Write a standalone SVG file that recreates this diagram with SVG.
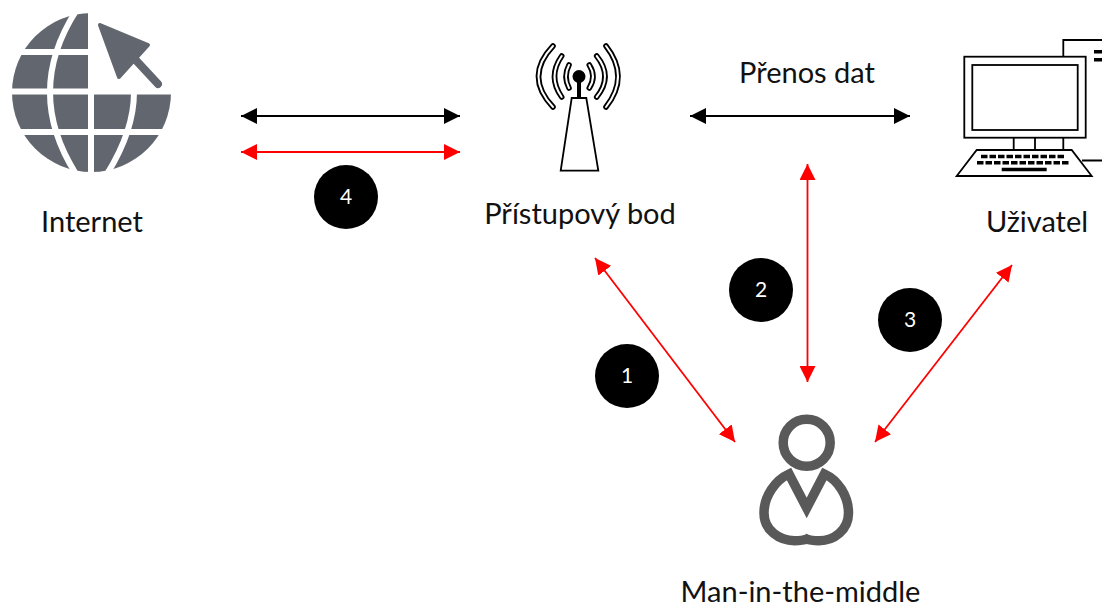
<svg xmlns="http://www.w3.org/2000/svg" width="1102" height="604" viewBox="0 0 1102 604">
<style>
text{font-family:"Lato","Liberation Sans",sans-serif;font-size:29px;fill:#111;text-anchor:middle}
.n{font-size:21px;fill:#fff}
.b{fill:#000}
.bk{stroke:#000;stroke-width:1.8;fill:none}
.rd{stroke:#f00;stroke-width:1.8;fill:none}
.ln{fill:none;stroke:#000;stroke-width:1.8;stroke-linejoin:miter}
.a1{fill:none;stroke:#000;stroke-width:5.6;stroke-linecap:round}
.a2{fill:none;stroke:#fff;stroke-width:2;stroke-linecap:round}
.g{fill:none;stroke:#fff;stroke-width:6}
</style>
<defs>
<marker id="ak" viewBox="0 0 16 16" refX="16" refY="8" markerWidth="16" markerHeight="16" markerUnits="userSpaceOnUse" orient="auto-start-reverse"><path d="M0 0L16 8L0 16z" fill="#000"/></marker>
<marker id="ar" viewBox="0 0 16 16" refX="16" refY="8" markerWidth="16" markerHeight="16" markerUnits="userSpaceOnUse" orient="auto-start-reverse"><path d="M0 0L16 8L0 16z" fill="#f00"/></marker>
<clipPath id="gc"><path d="M0 0H91V92H180V180H0z"/></clipPath>
</defs>
<g id="connectors">
<path class="bk" d="M241 116H460" marker-start="url(#ak)" marker-end="url(#ak)"/>
<path class="rd" d="M241 152H460" marker-start="url(#ar)" marker-end="url(#ar)"/>
<path class="bk" d="M690 116H910" marker-start="url(#ak)" marker-end="url(#ak)"/>
<path class="rd" d="M807.500 164V382" marker-start="url(#ar)" marker-end="url(#ar)"/>
<path class="rd" d="M595 258L735 442" marker-start="url(#ar)" marker-end="url(#ar)"/>
<path class="rd" d="M1012 265L875 442" marker-start="url(#ar)" marker-end="url(#ar)"/>
</g>
<g id="internet">
<g clip-path="url(#gc)">
<circle cx="91.500" cy="92.500" r="79.500" fill="#62666f"/>
<path class="g" d="M76 11Q24 92 76 174"/>
<path class="g" d="M0 52H180M0 91.500H180M0 132H180M91 0V180"/>
<path class="g" d="M107 174C122 150 134 122 134 92"/>
</g>
<path d="M100 25L148 45L119 77z" fill="#62666f" stroke="#62666f" stroke-width="4" stroke-linejoin="round"/>
<path d="M132 56L158 84" stroke="#62666f" stroke-width="8" stroke-linecap="round"/>
<text x="92" y="232">Internet</text>
</g>
<g id="pristupovy-bod">
<path class="ln" d="M571.700 98H586.300L598.300 170.700H560.700z" stroke-width="1.900"/>
<path d="M579 77V98" stroke="#000" stroke-width="4"/>
<circle cx="579" cy="76.500" r="6.500" class="b"/>
<g id="waves">
<path class="a1" d="M553 46Q524 76.500 553 107M561.700 56Q547.300 76.500 561.700 97M569 65Q563 76.500 569 88M606 46Q630 76.500 606 107M596.700 56Q613.300 76.500 596.700 97M589.300 65Q596.700 76.500 589.300 88"/>
<path class="a2" d="M553 46Q524 76.500 553 107M561.700 56Q547.300 76.500 561.700 97M569 65Q563 76.500 569 88M606 46Q630 76.500 606 107M596.700 56Q613.300 76.500 596.700 97M589.300 65Q596.700 76.500 589.300 88"/>
</g>
<text x="580" y="224">Přístupový bod</text>
</g>
<g id="uzivatel">
<path class="ln" d="M1063.300 57V40H1102M1063.300 138V150M1082 160.500H1102"/>
<rect x="1094" y="50" width="8" height="3.500" class="b"/>
<rect x="1094" y="58" width="8" height="3.500" class="b"/>
<rect x="964.300" y="56.700" width="121.400" height="81" class="ln"/>
<rect x="972.300" y="65" width="105.400" height="65" class="ln"/>
<path class="ln" d="M1013.700 138V150M1035 138V150"/>
<path class="ln" d="M976.700 150H1071.700L1091.700 176H956.700z"/>
<path d="M981 156.500H1064" stroke="#000" stroke-width="3.500" stroke-dasharray="6.500 2"/>
<path d="M977 162.700H1070" stroke="#000" stroke-width="3.500" stroke-dasharray="6.500 2"/>
<path d="M1001.700 169.500H1046.700" stroke="#000" stroke-width="3.500"/>
<text x="1037" y="232">Uživatel</text>
</g>
<g id="man-in-the-middle">
<circle cx="806.700" cy="442.700" r="23.500" fill="none" stroke="#595959" stroke-width="9.500"/>
<path d="M789 474L806.700 508L824.400 474C838 480 848.500 496 848.500 513C848.500 530 834 540.700 819 540.700C813 540.700 809 540 806.700 539C804.400 540 800.500 540.700 794.500 540.700C779 540.700 764 530 764 513C764 496 775.500 480 789 474z" fill="none" stroke="#595959" stroke-width="9.500" stroke-linejoin="miter"/>
<text x="800.500" y="602">Man-in-the-middle</text>
</g>
<g id="prenos-dat"><text x="807" y="83">Přenos dat</text></g>
<g id="badge-1"><circle cx="627" cy="376" r="32" class="b"/><text class="n" x="627" y="383">1</text></g>
<g id="badge-2"><circle cx="761" cy="290" r="32" class="b"/><text class="n" x="761" y="297">2</text></g>
<g id="badge-3"><circle cx="910" cy="320" r="32" class="b"/><text class="n" x="910" y="327">3</text></g>
<g id="badge-4"><circle cx="346" cy="197" r="32" class="b"/><text class="n" x="346" y="204">4</text></g>
</svg>
